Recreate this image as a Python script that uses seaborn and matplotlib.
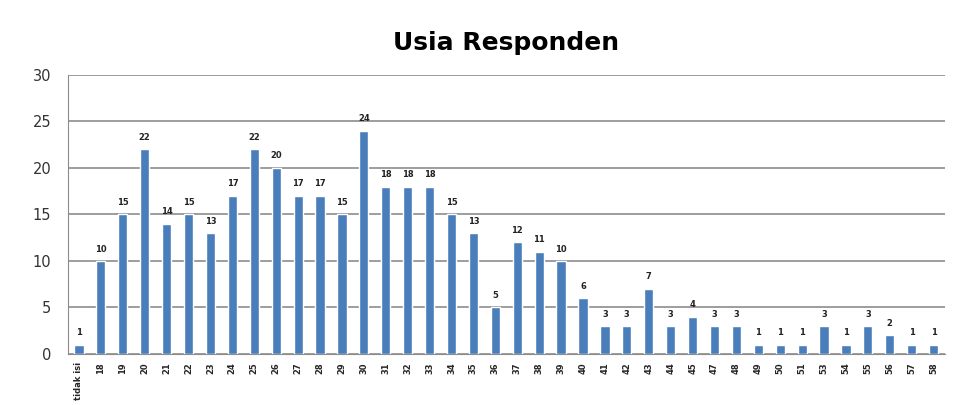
import pandas as pd
import numpy as np
import matplotlib
matplotlib.use("Agg")
import matplotlib.pyplot as plt
import seaborn as sns

# Umur responden dan jumlahnya
usia = ["tidak isi", "18", "19", "20", "21", "22", "23", "24", "25", "26", "27", "28",
        "29", "30", "31", "32", "33", "34", "35", "36", "37", "38", "39", "40", "41",
        "42", "43", "44", "45", "47", "48", "49", "50", "51", "53", "54", "55", "56",
        "57", "58"]
jumlah = [1, 10, 15, 22, 14, 15, 13, 17, 22, 20, 17, 17, 15, 24, 18, 18, 18, 15, 13, 5,
          12, 11, 10, 6, 3, 3, 7, 3, 4, 3, 3, 1, 1, 1, 3, 1, 3, 2, 1, 1]

df = pd.DataFrame({"Usia": usia, "Jumlah": jumlah})

sns.set_style("white")
fig = plt.figure(figsize=(9.58, 4.05), dpi=100)
ax = fig.add_axes([0.071, 0.126, 0.915, 0.689])

sns.barplot(data=df, x="Usia", y="Jumlah", color="#4a7ebb", width=0.42,
            saturation=1, ax=ax, zorder=3)

for p, v in zip(ax.patches, jumlah):
    ax.text(p.get_x() + p.get_width() / 2, v + 0.8, str(v), ha="center", va="bottom",
            fontsize=6, fontweight="bold", color="#222222")

ax.set_ylim(0, 30)
ax.set_xlim(-0.5, len(usia) - 0.5)
ax.set_yticks(range(0, 31, 5))
ax.yaxis.grid(True, color="#8c8c8c", linewidth=1.2, zorder=0)
ax.set_xlabel("")
ax.set_ylabel("")
ax.set_title("Usia Responden", fontsize=18, fontweight="bold", pad=18, color="black")

ax.tick_params(axis="y", labelsize=10.5, labelcolor="#333333", length=0, pad=12)
ax.tick_params(axis="x", labelsize=6, rotation=90, length=0, pad=6)
for lbl in ax.get_xticklabels():
    lbl.set_fontweight("bold")

# tanda kecil di batas kategori
ax.set_xticks(np.arange(-0.5, len(usia), 1), minor=True)
ax.tick_params(axis="x", which="minor", length=4, color="#888888", direction="out")

for s in ["top", "right"]:
    ax.spines[s].set_visible(False)
ax.spines["left"].set_color("#8c8c8c")
ax.spines["bottom"].set_color("#8c8c8c")

plt.savefig("out.png", dpi=100)
